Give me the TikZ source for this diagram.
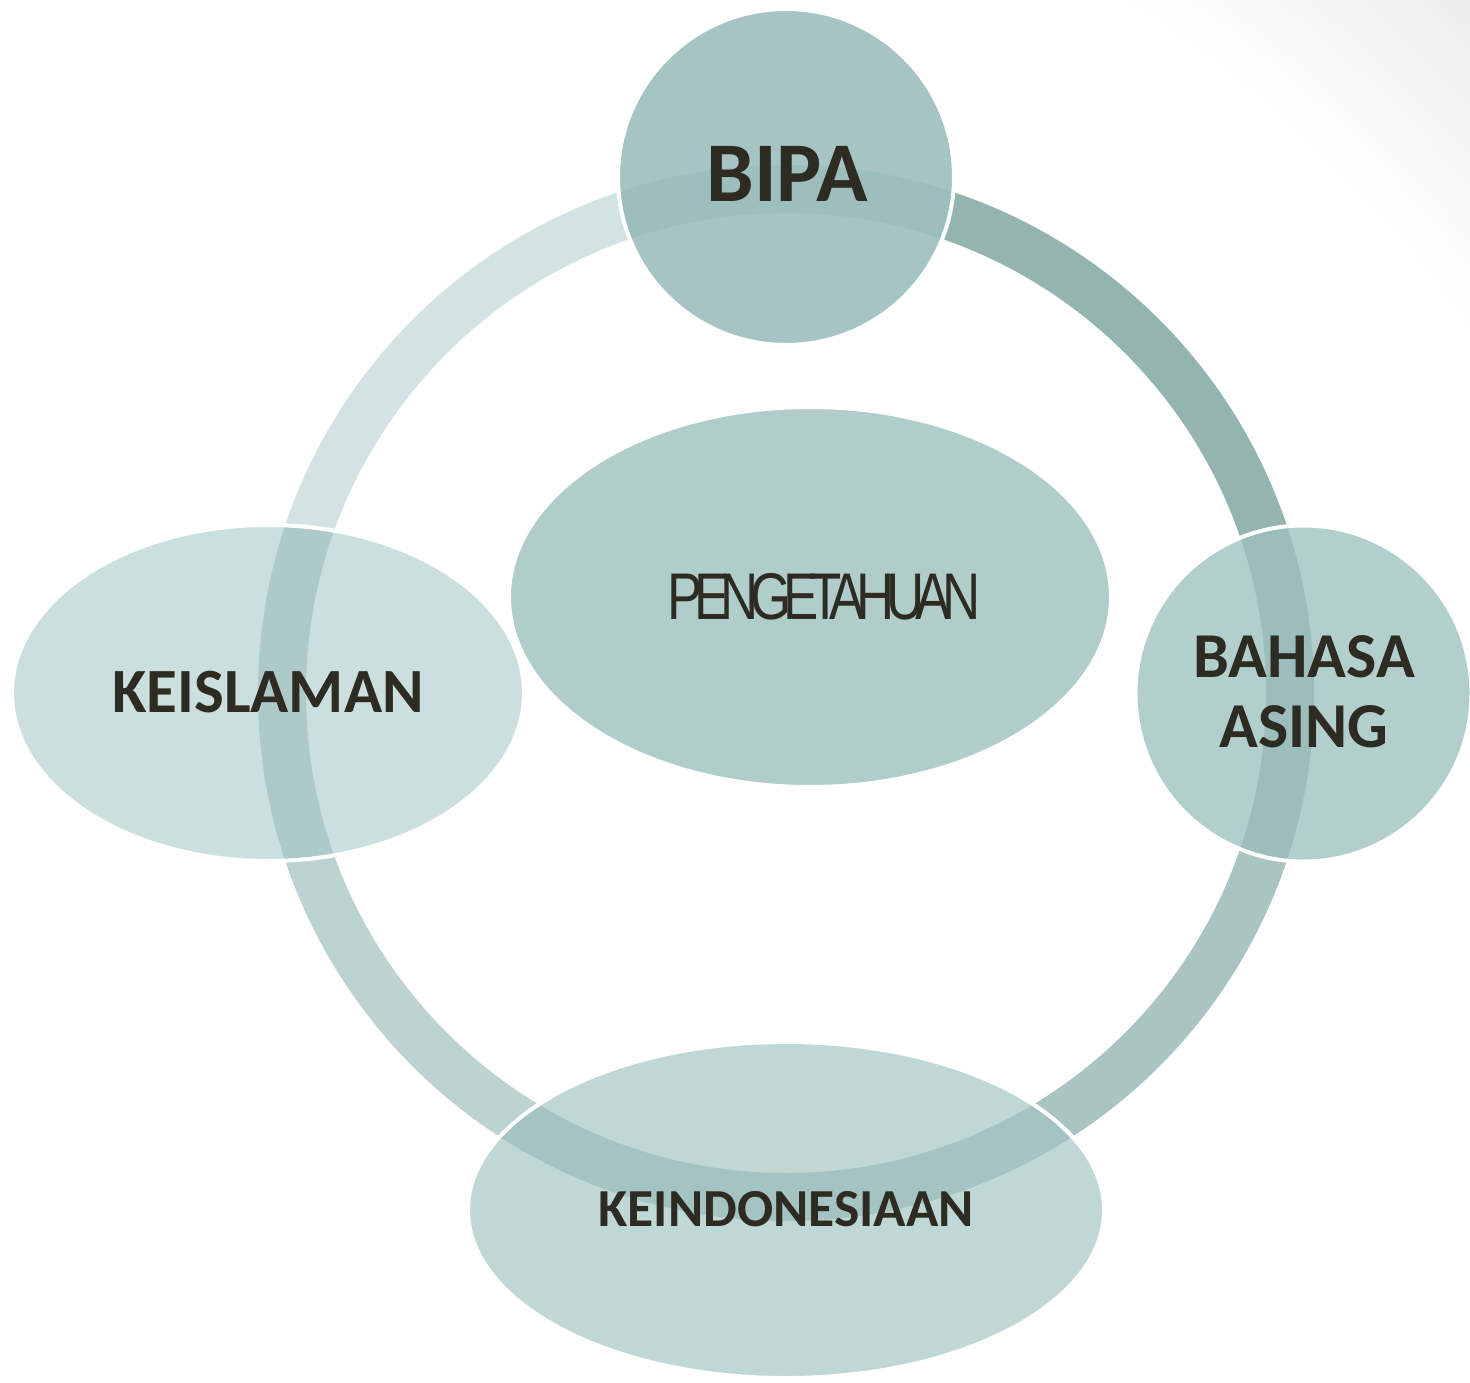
\documentclass[tikz,border=0pt]{standalone}
\usepackage{fontspec}
\setmainfont{Carlito}
\newfontfamily\condfont[LetterSpace=-16]{Liberation Sans}
\usetikzlibrary{shapes.geometric}
\definecolor{segTR}{HTML}{94B4B2}
\definecolor{segBR}{HTML}{A9C4C3}
\definecolor{segBL}{HTML}{BCD3D2}
\definecolor{segTL}{HTML}{D3E2E2}
\definecolor{fBIPA}{HTML}{A6C4C4}
\definecolor{bBIPA}{HTML}{9CBEBD}
\definecolor{fBA}{HTML}{B2CECD}
\definecolor{bBA}{HTML}{9DBDBD}
\definecolor{fKI}{HTML}{CBDFDF}
\definecolor{bKI}{HTML}{AEC9C9}
\definecolor{fKD}{HTML}{BFD7D5}
\definecolor{bKD}{HTML}{A5C3C2}
\definecolor{fPG}{HTML}{B0CCCB}
\definecolor{txt}{HTML}{2E2B22}
\definecolor{bgcorner}{HTML}{ECECEC}
\pgfdeclareradialshading{bgshade}{\pgfpoint{0bp}{0bp}}{color(0bp)=(white); color(21bp)=(white); color(25bp)=(bgcorner); color(50bp)=(bgcorner)}
\tikzset{
  ringseg/.style={line width=48pt},
  blob/.style={inner sep=0pt, outer sep=0pt},
  outline/.style={draw=white, line width=4pt},
  lbl/.style={text=txt, align=center, inner sep=0pt},
}
\begin{document}
\begin{tikzpicture}[x=1pt,y=-1pt]
\useasboundingbox (0,0) rectangle (1470,1382);
\begin{scope}
  \clip (0,0) rectangle (1470,1382);
  \shade[shading=bgshade] (-900,-400) rectangle (1900,2400);
\end{scope}
\coordinate (ringc) at (786,693);
% ring segments
\begin{scope}\clip (786,0) rectangle (1470,693);
  \draw[ringseg, segTR] (ringc) circle (504);\end{scope}
\begin{scope}\clip (786,693) rectangle (1470,1382);
  \draw[ringseg, segBR] (ringc) circle (504);\end{scope}
\begin{scope}\clip (0,693) rectangle (786,1382);
  \draw[ringseg, segBL] (ringc) circle (504);\end{scope}
\begin{scope}\clip (0,0) rectangle (786,693);
  \draw[ringseg, segTL] (ringc) circle (504);\end{scope}
% BIPA
\node[blob, circle, minimum size=336pt, fill=fBIPA] (bipa) at (786,177) {};
\begin{scope}\clip (786,177) circle (168);
  \draw[ringseg, bBIPA] (ringc) circle (504);\end{scope}
\draw[outline] (bipa.center) circle (168);
\node[lbl, font=\bfseries\fontsize{85}{90}\selectfont] (bipaT) at (787,174) {BIPA};
% BAHASA ASING
\node[blob, circle, minimum size=336pt, fill=fBA] (bahasa) at (1303.5,693.5) {};
\begin{scope}\clip (1303.5,693.5) circle (168);
  \draw[ringseg, bBA] (ringc) circle (504);\end{scope}
\draw[outline] (bahasa.center) circle (168);
\node[lbl, font=\bfseries\fontsize{64}{70}\selectfont] (bahasaT) at (1304,692) {BAHASA\\ASING};
% KEISLAMAN
\node[blob, ellipse, minimum width=512pt, minimum height=336pt, fill=fKI] (islam) at (268,693) {};
\begin{scope}\clip (268,693) ellipse [x radius=256, y radius=168];
  \draw[ringseg, bKI] (ringc) circle (504);\end{scope}
\draw[outline] (islam.center) ellipse [x radius=256, y radius=168];
\node[lbl, font=\bfseries\fontsize{63}{70}\selectfont] (islamT) at (268,692) {KEISLAMAN};
% KEINDONESIAAN
\node[blob, ellipse, minimum width=636pt, minimum height=336pt, fill=fKD] (indo) at (786,1210) {};
\begin{scope}\clip (786,1210) ellipse [x radius=318, y radius=168];
  \draw[ringseg, bKD] (ringc) circle (504);\end{scope}
\draw[outline] (indo.center) ellipse [x radius=318, y radius=168];
\node[lbl, font=\bfseries\fontsize{53.5}{60}\selectfont] (indoT) at (786,1209.5) {KEINDONESIAAN};
% PENGETAHUAN
\node[blob, ellipse, minimum width=602pt, minimum height=380pt, fill=fPG] (peng) at (810,597) {};
\draw[outline] (peng.center) ellipse [x radius=301, y radius=190];
\node[lbl, font=\condfont\fontsize{66}{70}\selectfont] (pengT) at (824,596.5) {\scalebox{0.8}[1]{PENGETAHUAN}};
\end{tikzpicture}
\end{document}
